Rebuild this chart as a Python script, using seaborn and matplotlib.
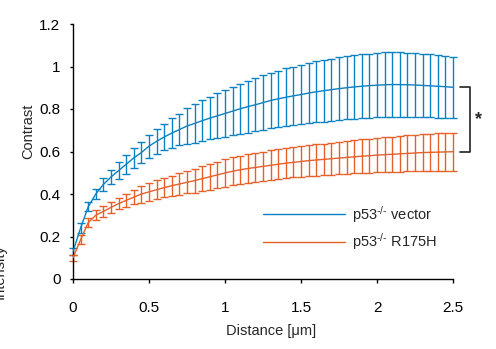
import numpy as np
import pandas as pd
import matplotlib
matplotlib.use("Agg")
import matplotlib.pyplot as plt
import seaborn as sns
from matplotlib.lines import Line2D

# ---------------- data ----------------
distance = [0.00, 0.05, 0.10, 0.15, 0.20, 0.25, 0.30, 0.35, 0.40, 0.45,
            0.50, 0.55, 0.60, 0.65, 0.70, 0.75, 0.80, 0.85, 0.90, 0.95,
            1.00, 1.05, 1.10, 1.15, 1.20, 1.25, 1.30, 1.35, 1.40, 1.45,
            1.50, 1.55, 1.60, 1.65, 1.70, 1.75, 1.80, 1.85, 1.90, 1.95,
            2.00, 2.05, 2.10, 2.15, 2.20, 2.25, 2.30, 2.35, 2.40, 2.45,
            2.50]

vector_mean = [0.130, 0.240, 0.340, 0.400, 0.445, 0.480, 0.510, 0.540, 0.570, 0.595,
               0.625, 0.648, 0.668, 0.687, 0.703, 0.720, 0.732, 0.745, 0.757, 0.768,
               0.779, 0.790, 0.801, 0.811, 0.820, 0.830, 0.840, 0.848, 0.855, 0.862,
               0.868, 0.875, 0.881, 0.886, 0.891, 0.896, 0.900, 0.904, 0.907, 0.910,
               0.912, 0.914, 0.915, 0.915, 0.914, 0.913, 0.911, 0.909, 0.907, 0.905,
               0.902]
vector_err = [0.015, 0.024, 0.022, 0.025, 0.029, 0.033, 0.041, 0.044, 0.047, 0.051,
              0.054, 0.059, 0.063, 0.069, 0.074, 0.083, 0.091, 0.096, 0.100, 0.105,
              0.110, 0.114, 0.118, 0.122, 0.125, 0.128, 0.131, 0.133, 0.136, 0.138,
              0.140, 0.142, 0.144, 0.145, 0.146, 0.148, 0.149, 0.150, 0.150, 0.151,
              0.151, 0.152, 0.152, 0.151, 0.151, 0.150, 0.149, 0.148, 0.147, 0.146,
              0.145]

r175h_mean = [0.100, 0.185, 0.265, 0.300, 0.318, 0.337, 0.355, 0.370, 0.385, 0.400,
              0.410, 0.420, 0.430, 0.439, 0.447, 0.455, 0.463, 0.472, 0.481, 0.490,
              0.499, 0.507, 0.514, 0.520, 0.525, 0.530, 0.535, 0.540, 0.545, 0.549,
              0.553, 0.557, 0.560, 0.563, 0.566, 0.569, 0.572, 0.575, 0.578, 0.580,
              0.583, 0.585, 0.587, 0.589, 0.591, 0.593, 0.595, 0.596, 0.597, 0.598,
              0.599]
r175h_err = [0.015, 0.021, 0.022, 0.023, 0.024, 0.025, 0.027, 0.030, 0.033, 0.040,
             0.042, 0.044, 0.046, 0.048, 0.050, 0.052, 0.056, 0.058, 0.060, 0.062,
             0.064, 0.066, 0.067, 0.068, 0.069, 0.069, 0.070, 0.070, 0.071, 0.071,
             0.072, 0.072, 0.073, 0.074, 0.075, 0.076, 0.077, 0.078, 0.079, 0.080,
             0.081, 0.082, 0.083, 0.084, 0.085, 0.086, 0.087, 0.088, 0.088, 0.089,
             0.090]

series_labels = ["p53$^{\\text{-/-}}$ vector", "p53$^{\\text{-/-}}$ R175H"]
x_ticks = [0, 0.5, 1, 1.5, 2, 2.5]
x_tick_labels = ["0", "0.5", "1", "1.5", "2", "2.5"]
y_ticks = [0, 0.2, 0.4, 0.6, 0.8, 1.0, 1.2]
y_tick_labels = ["0", "0.2", "0.4", "0.6", "0.8", "1", "1.2"]

# ---------------- style ----------------
sns.set_theme(style="ticks")
plt.rcParams["font.family"] = ["Liberation Sans", "DejaVu Sans"]
plt.rcParams["mathtext.fontset"] = "custom"
plt.rcParams["mathtext.rm"] = "Liberation Sans"
plt.rcParams["mathtext.it"] = "Liberation Sans"

blue = "#0b80c3"
orange = "#e6602a"
colors = [blue, orange]

df = pd.DataFrame({
    "Distance": distance * 2,
    "Contrast": vector_mean + r175h_mean,
    "err": vector_err + r175h_err,
    "group": [series_labels[0]] * len(distance) + [series_labels[1]] * len(distance),
})

fig = plt.figure(figsize=(4.96, 3.49), dpi=100)
ax = fig.add_axes([73 / 496, 1 - 279 / 349, 380 / 496, 255 / 349])

sns.lineplot(data=df, x="Distance", y="Contrast", hue="group",
             palette=colors, linewidth=1.0, ax=ax, legend=False,
             errorbar=None, zorder=3)

for (name, g), c in zip(df.groupby("group", sort=False), colors):
    ax.errorbar(g["Distance"], g["Contrast"], yerr=g["err"], fmt="none",
                ecolor=c, elinewidth=1.0, capsize=2.6, capthick=1.0,
                clip_on=False, zorder=2)

ax.set_xlim(0, 2.5)
ax.set_ylim(0, 1.2)
ax.set_xticks(x_ticks)
ax.set_xticklabels(x_tick_labels)
ax.set_yticks(y_ticks)
ax.set_yticklabels(y_tick_labels)
ax.set_xlabel("")
ax.set_ylabel("")
sns.despine(ax=ax)
for s in ["left", "bottom"]:
    ax.spines[s].set_linewidth(1.0)
    ax.spines[s].set_color("black")
ax.tick_params(axis="x", direction="out", length=3, width=1, pad=13,
               labelsize=11, colors="black")
ax.tick_params(axis="y", direction="out", length=2.5, width=1, pad=6.5,
               labelsize=11, colors="black")

# axis labels
fig.text(271 / 496, 1 - 331 / 349, "Distance [\u03bcm]", ha="center",
         va="center", fontsize=10.5)
fig.text(28 / 496, 1 - 131 / 349, "Contrast", ha="center", va="center",
         rotation=90, fontsize=10.5)
# partially visible label at the left edge, as in the reference
fig.text(0 / 496, 1 - 272 / 349, "Intensity", ha="center", va="center",
         rotation=90, fontsize=10.5)

# legend
handles = [Line2D([0], [0], color=c, lw=1.0) for c in colors]
ax.legend(handles, series_labels, loc="upper left",
          bbox_to_anchor=(0.5, 0.295), frameon=False, fontsize=10.5,
          handlelength=5.6, handletextpad=0.5, labelspacing=0.45,
          borderpad=0, borderaxespad=0)

# significance bracket
y_top = vector_mean[-1]
y_bot = r175h_mean[-1]
xa, xb = 2.545, 2.61
ax.plot([xa, xb, xb, xa], [y_top, y_top, y_bot, y_bot], color="#222222",
        lw=1.2, clip_on=False)
ax.text(2.67, (y_top + y_bot) / 2, "*", ha="center", va="center",
        fontsize=13, fontweight="bold", clip_on=False)

fig.savefig("out.png", dpi=100)
